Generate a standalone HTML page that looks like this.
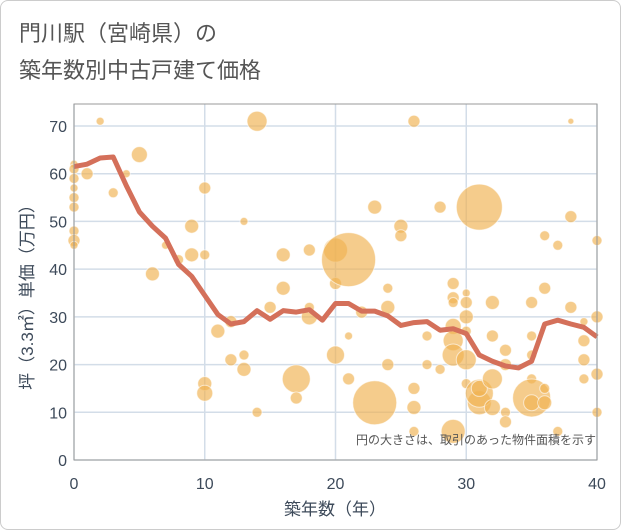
<!DOCTYPE html>
<html><head><meta charset="utf-8"><style>
body{margin:0;background:#fff}
#wrap{position:relative;width:619px;height:528px;border:1px solid #ccc;border-radius:8px;overflow:hidden;background:#fff}
svg text{font-family:"Liberation Sans","Noto Sans CJK JP",sans-serif}
</style></head><body>
<div id="wrap">
<svg id="c" width="621" height="530">
<text x="18" y="40" font-size="22" fill="#555">門川駅（宮崎県）の</text>
<text x="18" y="77" font-size="22" fill="#555">築年数別中古戸建て価格</text>
<g id="grid"></g><g id="bub"></g><g id="ln"></g><g id="ax"></g>
<text x="595" y="443" font-size="12" fill="#555" text-anchor="end">円の大きさは、取引のあった物件面積を示す</text>
<text x="334" y="514" font-size="17" fill="#3d4a5a" text-anchor="middle">築年数（年）</text>
<text transform="translate(32,292) rotate(-90)" font-size="17" fill="#3d4a5a" text-anchor="middle">坪（3.3㎡）単価（万円）</text>
</svg></div>
<script>
const xTicks=[0,10,20,30,40];
const yTicks=[0,10,20,30,40,50,60,70];
const lineYears=[0,1,2,3,4,5,6,7,8,9,10,11,12,13,14,15,16,17,18,19,20,21,22,23,24,25,26,27,28,29,30,31,32,33,34,35,36,37,38,39,40];
const linePrices=[61.5,62,63.3,63.5,57.5,52,49,46.5,41,38.5,34.5,30.5,28.5,29,31.3,29.5,31.3,31,31.5,29.3,32.8,32.8,31.2,31.2,30.2,28.2,28.8,29,27.2,27.5,26.5,22,20.7,19.7,19.3,20.7,28.5,29.3,28.5,27.8,25.8];
const bubX=[0,0,0,0,0,0,0,0,0,1,2,3,4,5,6,7,8,9,9,10,10,10,10,11,12,12,13,13,13,14,14,15,16,16,17,17,18,18,18,20,20,20,21,21,21,22,23,23,24,24,24,25,25,26,26,26,26,27,27,28,28,29,29,29,29,29,29,29,30,30,30,30,30,30,31,31,31,31,32,32,32,32,33,33,33,33,35,35,35,35,35,35,36,36,36,36,37,37,38,38,38,39,39,39,39,40,40,40,40];
const bubY=[62,61,59,57,55,53,48,46,45,60,71,56,60,64,39,45,42,49,43,57,43,16,14,27,29,21,50,22,19,71,10,32,43,36,17,13,44,30,32,37,22,44,42,26,17,31,53,12,36,32,20,49,47,71,15,11,6,20,26,53,19,37,34,33,28,25,22,6,35,33,30,27,21,16,53,12,14,15,33,26,17,11,23,20,10,8,33,26,22,17,13,12,47,36,15,12,45,6,71,51,32,29,25,21,17,46,30,18,10];
const bubR=[4,5,5,4,5,5,5,6,4,6,4,5,4,8,7,4,5,7,7,6,5,7,8,7,6,6,4,5,7,10,5,6,7,7,14,6,6,8,5,6,9,12,27,4,6,6,7,22,5,7,6,7,6,6,6,7,5,5,5,6,5,6,6,5,8,10,11,12,4,6,7,5,10,5,23,12,14,8,7,6,10,8,6,6,5,6,6,5,5,5,19,8,5,6,5,7,5,5,3,6,6,4,6,6,5,5,6,6,5];
const L=73,R=596,T=103,B=459;
const X=v=>L+(v/40)*(R-L), Y=v=>B-(v/70)*(459-125);
const NS='http://www.w3.org/2000/svg';
function mk(t,a,p){const e=document.createElementNS(NS,t);for(const k in a)e.setAttribute(k,a[k]);p.appendChild(e);return e;}
const g=document.getElementById('grid');
xTicks.forEach(v=>{const e=mk('line',{x1:X(v),x2:X(v),y1:T,y2:B,stroke:'#d3dde8','stroke-width':1.5},g);

});
yTicks.forEach(v=>{const e=mk('line',{x1:L,x2:R,y1:Y(v),y2:Y(v),stroke:'#d3dde8','stroke-width':1.5},g);

});
const bg=document.getElementById('bub');
bubX.forEach((v,i)=>{const e=mk('circle',{cx:X(v),cy:Y(bubY[i]),r:bubR[i],fill:'rgba(240,178,80,0.66)',stroke:'rgba(255,255,255,0.6)','stroke-width':1},bg);

});
const pl=mk('polyline',{points:lineYears.map((v,i)=>X(v)+','+Y(linePrices[i])).join(' '),fill:'none',stroke:'#d4705a','stroke-width':5,'stroke-linejoin':'round'},document.getElementById('ln'));


const ax=document.getElementById('ax');
const fr=mk('rect',{x:L,y:T,width:R-L,height:B-T,fill:'none',stroke:'#999','stroke-width':1},ax);


xTicks.forEach(v=>{const t=mk('text',{x:X(v),y:488,'font-size':16,fill:'#3d4a5a','text-anchor':'middle'},ax);t.textContent=v;

});
yTicks.forEach(v=>{const t=mk('text',{x:66,y:Y(v)+6,'font-size':16,fill:'#3d4a5a','text-anchor':'end'},ax);t.textContent=v;

});
</script>
</body></html>
